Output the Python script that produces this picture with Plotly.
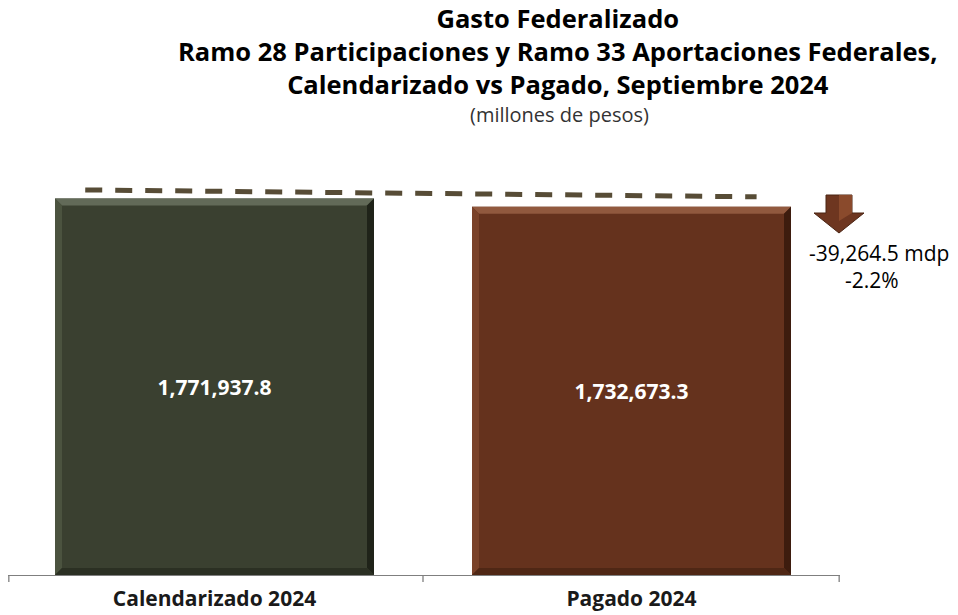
import plotly.graph_objects as go

categories = ["Calendarizado 2024", "Pagado 2024"]
values = [1771937.8, 1732673.3]
value_labels = ["1,771,937.8", "1,732,673.3"]
diff_label = "-39,264.5 mdp"
pct_label = "-2.2%"
title_lines = [
    "Gasto Federalizado",
    "Ramo 28 Participaciones y Ramo 33 Aportaciones Federales,",
    "Calendarizado vs Pagado, Septiembre 2024",
]
subtitle = "(millones de pesos)"

# page body has an 8px margin; the figure is sized to fit the window
OFF = 8
W, H = 958 - OFF, 615 - OFF
ML, MR, MT, MB = 0, 950 - 832, 142, 40
YMAX = 2.0e6
X0 = -0.5 + 2 / 417.0
FONT = "Open Sans"
BAR_W = 0.765
bar_colors = ["#3a4030", "#65321d"]
bevel_colors = [
    # top, left, right, bottom
    ["#626a58", "#4b533f", "#1f2319", "#2b3023"],
    ["#91593e", "#7a4229", "#3d1c0e", "#4f2715"],
]

plot_h = H - MT - MB
plot_w = W - ML - MR
DX = 7 * (1.5 - X0) / plot_w
DY = 7 * YMAX / plot_h


def py(screen_y):
    return (H - MB - (screen_y - OFF)) / plot_h


def px(screen_x):
    return ((screen_x - OFF) - ML) / plot_w


fig = go.Figure()
fig.add_trace(go.Bar(
    x=[0, 1], y=values,
    width=BAR_W,
    marker=dict(color=bar_colors, line=dict(width=0)),
    text=value_labels, textposition="inside", insidetextanchor="middle",
    textfont=dict(family=FONT, size=21, color="white", weight="bold"),
    hoverinfo="skip",
))

# bevel edges derived from each bar's extent
for i, v in enumerate(values):
    l, r = i - BAR_W / 2, i + BAR_W / 2
    b, t = 0, v
    faces = [
        [(l, t), (r, t), (r - DX, t - DY), (l + DX, t - DY)],
        [(l, t), (l + DX, t - DY), (l + DX, b + DY), (l, b)],
        [(r, t), (r, b), (r - DX, b + DY), (r - DX, t - DY)],
        [(l, b), (l + DX, b + DY), (r - DX, b + DY), (r, b)],
    ]
    for face, col in zip(faces, bevel_colors[i]):
        path = "M " + " L ".join(f"{xx} {yy}" for xx, yy in face) + " Z"
        fig.add_shape(type="path", xref="x", yref="y", path=path,
                      fillcolor=col, line=dict(width=0), layer="above")

# dashed reference line slightly above the bars
pad = 0.022 * YMAX
fig.add_shape(type="line", xref="x", yref="y",
              x0=-0.31, x1=1.30, y0=values[0] + pad * 0.91, y1=values[1] + pad * 1.07,
              line=dict(color="#574c36", width=5, dash="17px,13px"))

# down arrow (brown)
ax, top, mid, tip = 839, 195, 213, 233
shaft_w, head_w = 13, 25
path = (f"M {px(ax-shaft_w)} {py(top)} L {px(ax+shaft_w)} {py(top)} L {px(ax+shaft_w)} {py(mid)} "
        f"L {px(ax+head_w)} {py(mid)} L {px(ax)} {py(tip)} L {px(ax-head_w)} {py(mid)} "
        f"L {px(ax-shaft_w)} {py(mid)} Z")
fig.add_shape(type="path", xref="paper", yref="paper", path=path,
              fillcolor="#6e3620", line=dict(color="#4a2413", width=1))
path2 = (f"M {px(ax)} {py(top)} L {px(ax+shaft_w)} {py(top)} L {px(ax+shaft_w)} {py(mid)} "
         f"L {px(ax)} {py(mid+8)} Z")
fig.add_shape(type="path", xref="paper", yref="paper", path=path2,
              fillcolor="#8a4a2c", line=dict(width=0))

annotations = []
annotations.append(dict(text="<br>".join(f"<b>{t}</b>" for t in title_lines),
                        x=px(558), y=py(51), xref="paper", yref="paper",
                        showarrow=False, xanchor="center", yanchor="middle", align="center",
                        font=dict(family=FONT, size=25.5, color="black")))
annotations.append(dict(text=subtitle, x=px(559), y=py(114), xref="paper", yref="paper",
                        showarrow=False, xanchor="center", yanchor="middle",
                        font=dict(family=FONT, size=20, color="#333333")))
annotations.append(dict(text=diff_label, x=px(879), y=py(253), xref="paper", yref="paper",
                        showarrow=False, xanchor="center", yanchor="middle",
                        font=dict(family=FONT, size=21, color="black")))
annotations.append(dict(text=pct_label, x=px(872), y=py(280), xref="paper", yref="paper",
                        showarrow=False, xanchor="center", yanchor="middle",
                        font=dict(family=FONT, size=21, color="black")))

fig.update_layout(
    width=W, height=H,
    margin=dict(l=ML, r=MR, t=MT, b=MB, autoexpand=False),
    paper_bgcolor="white", plot_bgcolor="white",
    showlegend=False,
    annotations=annotations,
    xaxis=dict(
        range=[X0, 1.5],
        tickmode="array", tickvals=[0, 1],
        ticktext=[f"<b>{c}</b>" for c in categories],
        ticks="", showline=True, linecolor="#7f7f7f", linewidth=1.3,
        showgrid=False, zeroline=False, automargin=False,
        tickfont=dict(family=FONT, size=21, color="#1a1a1a"),
        ticklabelstandoff=5,
        fixedrange=True,
    ),
    yaxis=dict(range=[0, YMAX], visible=False, fixedrange=True, automargin=False),
)

# boundary ticks at category edges
for xb in [X0 + 0.002, 0.5, 1.5 - 0.002]:
    fig.add_shape(type="line", xref="x", yref="paper", x0=xb, x1=xb, y0=0, y1=-7 / plot_h,
                  line=dict(color="#7f7f7f", width=1.3))

fig.write_html("out.html")
